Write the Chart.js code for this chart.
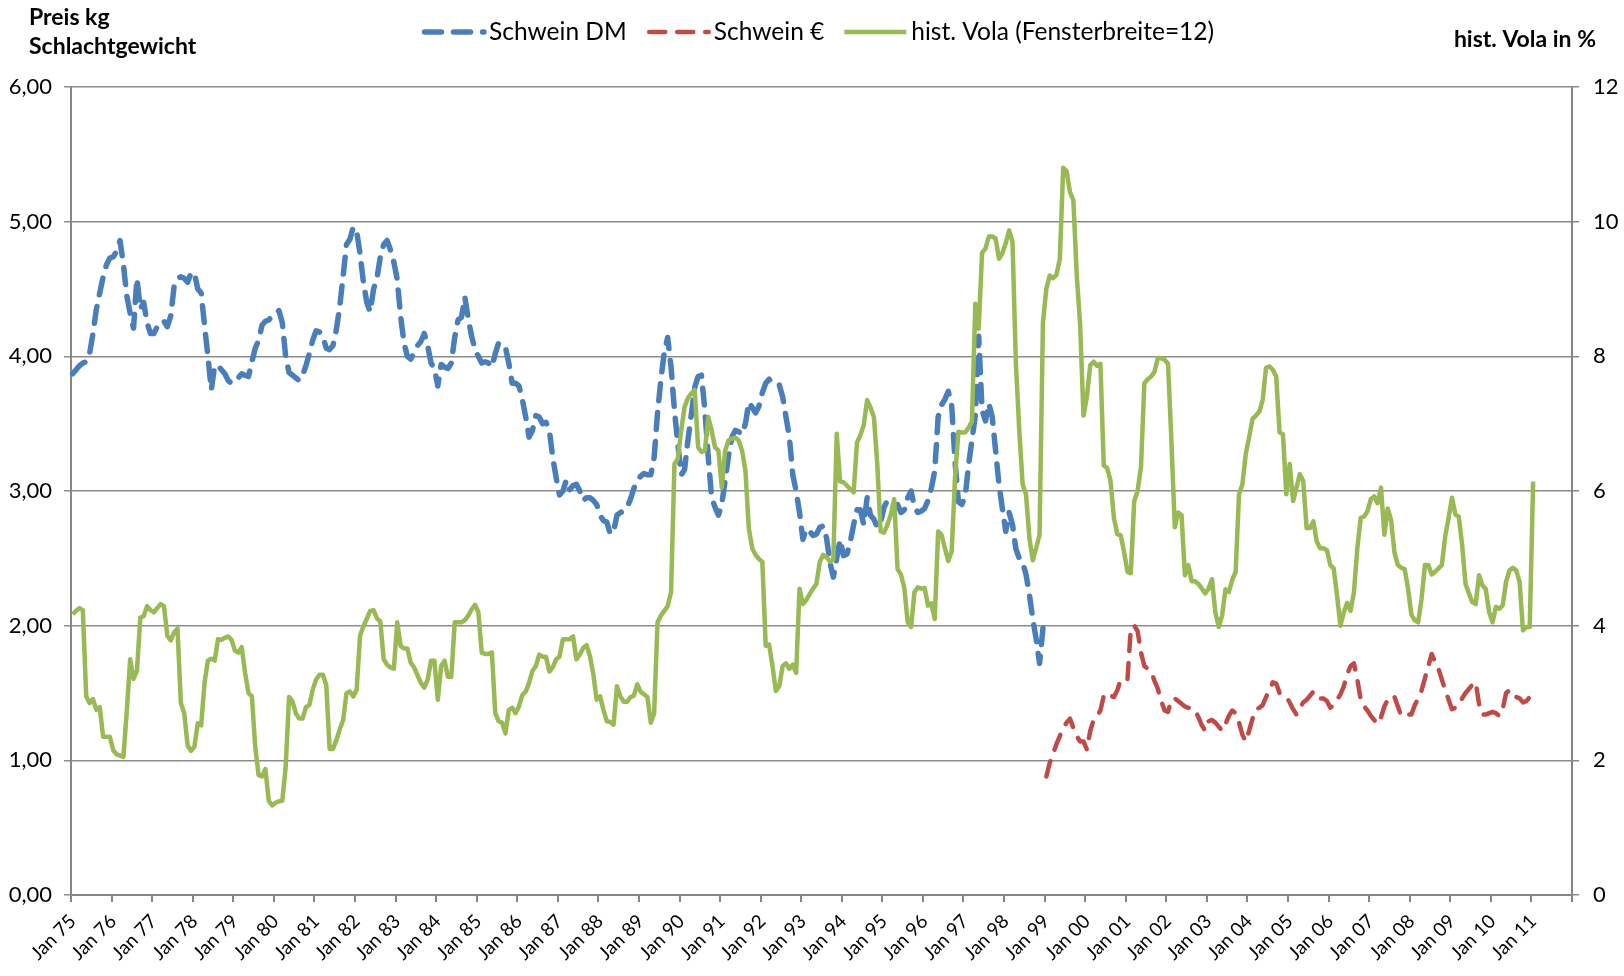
<!DOCTYPE html>
<html>
<head>
<meta charset="utf-8">
<script src="https://cdn.jsdelivr.net/npm/chart.js@4.4.1/dist/chart.umd.min.js"></script>
<style>
  html, body { margin: 0; padding: 0; background: #fff; }
  #wrap { width: 1624px; height: 976px; }
</style>
</head>
<body>
<div id="wrap"><canvas id="chart" width="1624" height="976"></canvas></div>
<script>
// Monatswerte Jan 75 .. Dez 11 (Kategorien)
const monthNames = ['Jan', 'Feb', 'Mär', 'Apr', 'Mai', 'Jun', 'Jul', 'Aug', 'Sep', 'Okt', 'Nov', 'Dez'];
const months = [];
for (let y = 1975; y <= 2011; y++) {
  for (let m = 0; m < 12; m++) months.push(monthNames[m] + ' ' + String(y).slice(2));
}

// Schwein DM, Jan 75 .. Dez 98
const schweinDM = [
  3.87, 3.90, 3.93, 3.95, 3.96, 4.02, 4.17, 4.35, 4.47, 4.59, 4.68, 4.73,
  4.74, 4.78, 4.86, 4.68, 4.45, 4.32, 4.21, 4.58, 4.35, 4.40, 4.25, 4.17,
  4.17, 4.22, 4.26, 4.26, 4.22, 4.30, 4.52, 4.58, 4.59, 4.58, 4.55, 4.62,
  4.62, 4.50, 4.47, 4.23, 4.00, 3.75, 3.93, 3.93, 3.90, 3.87, 3.82, 3.80,
  3.81, 3.84, 3.87, 3.86, 3.85, 3.96, 4.06, 4.12, 4.23, 4.26, 4.27, 4.30,
  4.31, 4.34, 4.25, 4.00, 3.88, 3.86, 3.84, 3.82, 3.86, 3.93, 4.02, 4.12,
  4.19, 4.18, 4.15, 4.06, 4.05, 4.08, 4.20, 4.37, 4.60, 4.83, 4.87, 4.96,
  4.93, 4.76, 4.55, 4.40, 4.33, 4.50, 4.58, 4.74, 4.83, 4.86, 4.79, 4.70,
  4.57, 4.30, 4.10, 4.00, 3.98, 4.03, 4.08, 4.11, 4.17, 4.08, 3.95, 3.91,
  3.78, 3.94, 3.92, 3.91, 3.95, 4.14, 4.27, 4.29, 4.44, 4.28, 4.15, 4.05,
  4.00, 3.95, 3.96, 3.95, 3.92, 4.02, 4.10, 4.09, 4.07, 3.95, 3.80, 3.80,
  3.78, 3.68, 3.55, 3.40, 3.45, 3.56, 3.55, 3.50, 3.51, 3.45, 3.25, 3.10,
  2.97, 3.00, 3.08, 3.01, 3.04, 3.05, 3.00, 2.93, 2.95, 2.95, 2.93, 2.90,
  2.82, 2.78, 2.77, 2.68, 2.70, 2.82, 2.84, 2.85, 2.88, 2.94, 3.02, 3.08,
  3.11, 3.13, 3.12, 3.12, 3.25, 3.58, 3.83, 4.03, 4.14, 3.92, 3.60, 3.35,
  3.12, 3.16, 3.38, 3.57, 3.77, 3.85, 3.86, 3.60, 3.25, 2.95, 2.88, 2.82,
  2.90, 3.08, 3.26, 3.40, 3.45, 3.44, 3.42, 3.50, 3.66, 3.62, 3.58, 3.63,
  3.73, 3.80, 3.83, 3.80, 3.79, 3.79, 3.70, 3.55, 3.40, 3.12, 3.00, 2.84,
  2.64, 2.72, 2.70, 2.67, 2.68, 2.73, 2.74, 2.65, 2.47, 2.36, 2.50, 2.64,
  2.52, 2.53, 2.62, 2.75, 2.86, 2.86, 2.75, 2.95, 2.82, 2.79, 2.73, 2.77,
  2.88, 2.93, 2.90, 2.89, 2.90, 2.84, 2.86, 2.95, 3.00, 2.88, 2.84, 2.85,
  2.87, 2.93, 3.02, 3.15, 3.55, 3.64, 3.68, 3.74, 3.64, 3.22, 2.92, 2.90,
  2.96, 3.19, 3.38, 3.56, 4.15, 3.60, 3.52, 3.65, 3.55, 3.30, 3.05, 2.87,
  2.70, 2.84, 2.75, 2.57, 2.50, 2.47, 2.38, 2.23, 2.05, 1.90, 1.72, 1.98
];

// Schwein Euro, Jan 99 .. Dez 10
const schweinEuro = [
  0.88, 0.98, 1.05, 1.12, 1.18, 1.24, 1.28, 1.31, 1.24, 1.18, 1.14, 1.14,
  1.08, 1.22, 1.30, 1.33, 1.37, 1.48, 1.50, 1.48, 1.47, 1.52, 1.60, 1.60,
  1.60, 1.98, 2.00, 1.96, 1.80, 1.70, 1.68, 1.66, 1.59, 1.53, 1.44, 1.37,
  1.36, 1.45, 1.46, 1.44, 1.42, 1.40, 1.39, 1.39, 1.37, 1.32, 1.26, 1.22,
  1.29, 1.30, 1.28, 1.25, 1.22, 1.27, 1.33, 1.37, 1.35, 1.28, 1.19, 1.14,
  1.22, 1.31, 1.38, 1.39, 1.41, 1.47, 1.52, 1.58, 1.57, 1.50, 1.49, 1.47,
  1.43, 1.38, 1.34, 1.39, 1.43, 1.45, 1.48, 1.51, 1.50, 1.46, 1.46, 1.44,
  1.39, 1.41, 1.45, 1.49, 1.55, 1.64, 1.70, 1.72, 1.60, 1.45, 1.40, 1.37,
  1.33, 1.30, 1.27, 1.32, 1.40, 1.45, 1.48, 1.47, 1.40, 1.33, 1.34, 1.34,
  1.34, 1.41, 1.46, 1.52, 1.61, 1.70, 1.79, 1.73, 1.68, 1.60, 1.52, 1.45,
  1.38, 1.39, 1.43, 1.46, 1.50, 1.53, 1.56, 1.58, 1.42, 1.34, 1.34, 1.35,
  1.36, 1.35, 1.33, 1.38, 1.50, 1.52, 1.48, 1.47, 1.46, 1.43, 1.44, 1.47
];

// hist. Vola (Fensterbreite=12) in %, Jan 75 .. Jan 11
const histVola = [
  4.17, 4.22, 4.26, 4.23, 2.95, 2.85, 2.91, 2.75, 2.79, 2.35, 2.35, 2.35,
  2.15, 2.09, 2.07, 2.05, 2.73, 3.50, 3.21, 3.33, 4.12, 4.14, 4.29, 4.23,
  4.20, 4.26, 4.32, 4.29, 3.85, 3.78, 3.90, 3.96, 2.85, 2.70, 2.22, 2.14,
  2.20, 2.55, 2.52, 3.15, 3.48, 3.51, 3.48, 3.80, 3.79, 3.82, 3.84, 3.79,
  3.63, 3.60, 3.68, 3.30, 3.00, 2.95, 2.20, 1.78, 1.76, 1.87, 1.40, 1.33,
  1.37, 1.39, 1.40, 1.90, 2.94, 2.88, 2.70, 2.62, 2.62, 2.79, 2.82, 3.05,
  3.20, 3.27, 3.27, 3.12, 2.17, 2.17, 2.30, 2.46, 2.60, 3.00, 3.02, 2.95,
  3.05, 3.85, 3.99, 4.10, 4.22, 4.23, 4.11, 4.06, 3.50, 3.42, 3.38, 3.36,
  4.05, 3.70, 3.66, 3.66, 3.45, 3.38, 3.26, 3.15, 3.08, 3.20, 3.48, 3.48,
  2.90, 3.40, 3.48, 3.24, 3.24, 4.05, 4.05, 4.05, 4.08, 4.15, 4.24, 4.31,
  4.20, 3.60, 3.58, 3.58, 3.60, 2.70, 2.58, 2.56, 2.40, 2.75, 2.78, 2.70,
  2.80, 2.97, 3.02, 3.15, 3.33, 3.40, 3.57, 3.54, 3.54, 3.32, 3.38, 3.50,
  3.54, 3.80, 3.80, 3.80, 3.84, 3.50, 3.57, 3.67, 3.71, 3.55, 3.28, 2.90,
  2.95, 2.75, 2.58, 2.57, 2.53, 3.10, 2.95, 2.87, 2.87, 2.94, 2.96, 3.13,
  3.02, 2.98, 2.94, 2.56, 2.70, 4.05, 4.15, 4.22, 4.29, 4.50, 6.40, 6.48,
  6.90, 7.25, 7.38, 7.45, 7.50, 6.65, 6.58, 6.60, 7.10, 6.90, 6.65, 6.60,
  6.05, 6.60, 6.75, 6.78, 6.79, 6.75, 6.60, 6.30, 5.45, 5.15, 5.05, 4.99,
  4.95, 3.70, 3.72, 3.40, 3.03, 3.10, 3.40, 3.44, 3.36, 3.42, 3.30, 4.55,
  4.32, 4.38, 4.47, 4.55, 4.62, 4.95, 5.05, 5.02, 4.95, 4.98, 6.85, 6.14,
  6.13, 6.08, 6.03, 5.98, 6.72, 6.83, 6.98, 7.35, 7.24, 7.10, 6.40, 5.40,
  5.38, 5.50, 5.65, 5.88, 4.84, 4.76, 4.56, 4.05, 3.98, 4.50, 4.57, 4.55,
  4.56, 4.30, 4.33, 4.10, 5.40, 5.35, 5.15, 4.96, 5.10, 6.20, 6.88, 6.87,
  6.87, 6.94, 7.03, 8.78, 8.41, 9.54, 9.60, 9.78, 9.78, 9.75, 9.45, 9.53,
  9.68, 9.87, 9.70, 7.90, 6.90, 6.10, 5.95, 5.30, 4.97, 5.15, 5.35, 8.50,
  9.00, 9.20, 9.16, 9.21, 9.45, 10.80, 10.75, 10.44, 10.32, 9.21, 8.47, 7.12,
  7.40, 7.87, 7.92, 7.86, 7.89, 6.38, 6.34, 6.15, 5.60, 5.36, 5.34, 5.10,
  4.80, 4.78, 5.85, 6.00, 6.35, 7.60, 7.66, 7.70, 7.77, 7.98, 7.97, 7.95,
  7.89, 6.75, 5.46, 5.68, 5.64, 4.75, 4.90, 4.66, 4.66, 4.62, 4.55, 4.48,
  4.55, 4.69, 4.20, 3.98, 4.15, 4.54, 4.50, 4.68, 4.80, 5.95, 6.10, 6.55,
  6.80, 7.07, 7.12, 7.18, 7.35, 7.83, 7.85, 7.80, 7.70, 6.87, 6.84, 5.95,
  6.40, 5.85, 6.05, 6.25, 6.15, 5.45, 5.45, 5.55, 5.25, 5.15, 5.15, 5.12,
  4.90, 4.85, 4.45, 4.00, 4.20, 4.34, 4.22, 4.50, 5.15, 5.60, 5.62, 5.70,
  5.88, 5.92, 5.82, 6.05, 5.35, 5.74, 5.56, 5.08, 4.90, 4.86, 4.84, 4.55,
  4.16, 4.08, 4.05, 4.40, 4.90, 4.90, 4.76, 4.80, 4.85, 4.90, 5.33, 5.60,
  5.90, 5.65, 5.62, 5.20, 4.62, 4.48, 4.35, 4.32, 4.75, 4.60, 4.54, 4.20,
  4.05, 4.28, 4.25, 4.30, 4.65, 4.82, 4.86, 4.82, 4.65, 3.93, 3.98, 3.98,
  6.14
];

const FONT = 'Lato';
const GRID = '#8c8c8c';
const AXIS = '#868686';

const dmData = months.map((_, i) => (i < schweinDM.length ? schweinDM[i] : null));
const euroStart = schweinDM.length;
const euroData = months.map((_, i) => {
  const k = i - euroStart;
  return k >= 0 && k < schweinEuro.length ? schweinEuro[k] : null;
});
const volaData = months.map((_, i) => (i < histVola.length ? histVola[i] : null));

const series = [
  { label: 'Schwein DM', color: '#4a7ebb', width: 5.5, dash: [17, 12] },
  { label: 'Schwein €', color: '#be4b48', width: 4.5, dash: [16, 12] },
  { label: 'hist. Vola (Fensterbreite=12)', color: '#98b954', width: 4.5, dash: [] }
];

// Achsentitel und Legende oben
const headerPlugin = {
  id: 'header',
  afterDraw(chart) {
    const ctx = chart.ctx;
    ctx.save();
    ctx.fillStyle = '#000';
    ctx.textBaseline = 'middle';
    ctx.font = 'bold 23px ' + FONT;
    ctx.textAlign = 'left';
    ctx.fillText('Preis kg', 29, 18);
    ctx.fillText('Schlachtgewicht', 29, 47);
    ctx.textAlign = 'right';
    ctx.fillText('hist. Vola in %', 1596, 40);

    ctx.textAlign = 'left';
    ctx.font = '24.5px ' + FONT;
    let x = 422;
    const y = 32;
    series.forEach((s) => {
      ctx.beginPath();
      ctx.strokeStyle = s.color;
      ctx.lineWidth = s.width;
      ctx.lineCap = s.dash.length ? 'round' : 'butt';
      ctx.setLineDash(s.dash);
      ctx.moveTo(x + (s.dash.length ? 2.5 : 0), y);
      ctx.lineTo(x + 62, y);
      ctx.stroke();
      ctx.setLineDash([]);
      ctx.fillText(s.label, x + 67, y);
      x += 67 + ctx.measureText(s.label).width + 20;
    });
    ctx.restore();
  }
};

const ctx = document.getElementById('chart').getContext('2d');
new Chart(ctx, {
  type: 'line',
  data: {
    labels: months,
    datasets: [
      {
        label: series[0].label,
        data: dmData,
        yAxisID: 'y',
        borderColor: series[0].color,
        borderWidth: series[0].width,
        borderDash: series[0].dash,
        borderCapStyle: 'round',
        order: 3,
      },
      {
        label: series[1].label,
        data: euroData,
        yAxisID: 'y',
        borderColor: series[1].color,
        borderWidth: series[1].width,
        borderDash: series[1].dash,
        borderCapStyle: 'round',
        order: 2,
      },
      {
        label: series[2].label,
        data: volaData,
        yAxisID: 'y1',
        borderColor: series[2].color,
        borderWidth: series[2].width,
        order: 1,
      },
    ],
  },
  options: {
    responsive: false,
    animation: false,
    devicePixelRatio: 1,
    layout: { padding: { top: 87, left: 0, right: 0, bottom: 0 } },
    elements: {
      point: { radius: 0, hoverRadius: 0 },
      line: { tension: 0, borderJoinStyle: 'round', fill: false },
    },
    plugins: { legend: { display: false }, tooltip: { enabled: false } },
    scales: {
      x: {
        type: 'category',
        offset: true,
        afterFit: (scale) => { scale.height = 81; },
        grid: {
          offset: true,
          drawOnChartArea: false,
          drawTicks: true,
          tickLength: 7,
          lineWidth: 2,
          color: (c) => (c.index === undefined || c.index % 12 === 0 ? AXIS : 'rgba(0,0,0,0)'),
        },
        border: { display: true, color: AXIS, width: 2 },
        ticks: {
          autoSkip: false,
          minRotation: 45,
          maxRotation: 45,
          padding: 8,
          color: '#000',
          font: { family: FONT, size: 19 },
          callback: function (value, index) {
            return index % 12 === 0 ? this.getLabelForValue(value) : '';
          },
        },
      },
      y: {
        position: 'left',
        min: 0,
        max: 6,
        afterFit: (scale) => { scale.width = 71; },
        grid: { color: GRID, lineWidth: 1.5, tickLength: 7, drawTicks: true },
        border: { display: true, color: AXIS, width: 2 },
        ticks: {
          stepSize: 1,
          padding: 12,
          color: '#000',
          font: { family: FONT, size: 22 },
          callback: (v) => v.toFixed(2).replace('.', ','),
        },
      },
      y1: {
        position: 'right',
        min: 0,
        max: 12,
        afterFit: (scale) => { scale.width = 52; },
        grid: { drawOnChartArea: false, color: AXIS, lineWidth: 1.5, tickLength: 7 },
        border: { display: true, color: AXIS, width: 2 },
        ticks: {
          stepSize: 2,
          padding: 14,
          color: '#000',
          font: { family: FONT, size: 22 },
          callback: (v) => String(v),
        },
      },
    },
  },
  plugins: [headerPlugin],
});
</script>
</body>
</html>
